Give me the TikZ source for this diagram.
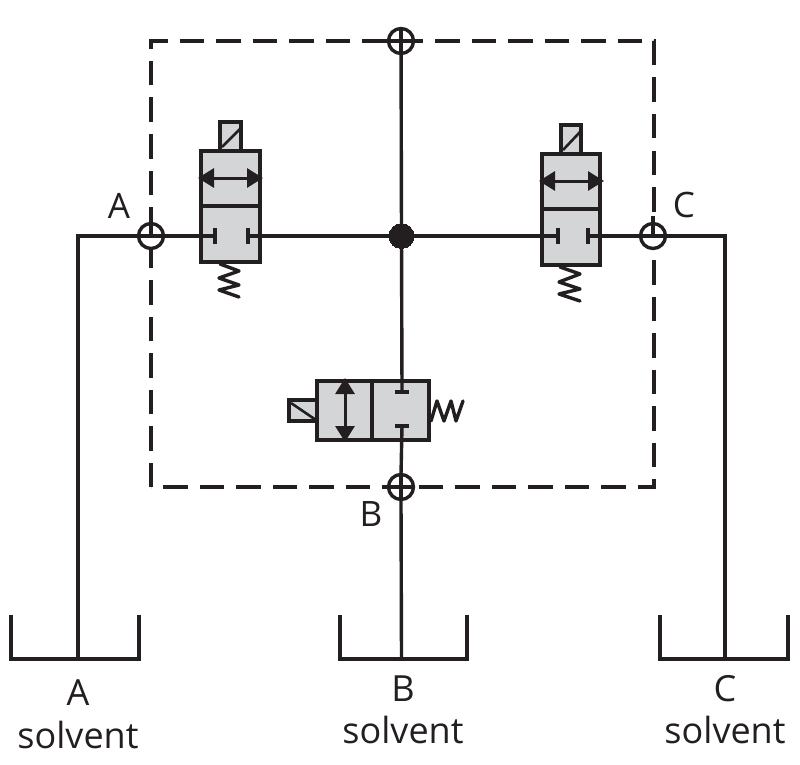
\documentclass[tikz,border=0pt]{standalone}
\usepackage{fontspec}
\setmainfont{Open Sans}
\usetikzlibrary{arrows.meta}
\definecolor{ink}{HTML}{231F20}
\definecolor{valvegrey}{HTML}{D3D5D7}
\tikzset{
  pipe/.style={line width=3.4pt,draw=ink},
  coil/.style={line width=3.4pt,draw=ink,line join=round,line cap=round},
  slash/.style={line width=2.6pt,draw=ink},
  boundary/.style={line width=3.4pt,draw=ink,dash pattern=on 24.5pt off 12pt},
  valvebody/.style={draw=ink,line width=3.4pt,fill=valvegrey,rectangle,inner sep=0pt,outer sep=0pt},
  portring/.style={circle,draw=ink,line width=3.4pt,fill=white,minimum size=25pt,inner sep=0pt,outer sep=0pt},
  junction/.style={circle,draw=ink,fill=ink,line width=0pt,minimum size=25pt,inner sep=0pt,outer sep=0pt},
  flow/.style={line width=3pt,draw=ink,{Triangle[length=16pt,width=19pt,fill=ink]}-{Triangle[length=16pt,width=19pt,fill=ink]},shorten <=-1pt,shorten >=-1pt},
  label/.style={draw=none,text=ink,font=\fontsize{35}{35}\selectfont,inner sep=0pt},
  tanklabel/.style={draw=none,text=ink,font=\fontsize{36}{36}\selectfont,inner sep=0pt}
}
\begin{document}
\begin{tikzpicture}[x=1pt,y=-1pt]
\useasboundingbox (0,0) rectangle (800,765);
\fill[white] (0,0) rectangle (800,765);
% boundary
\draw[boundary] (151,487) -- (151,41) -- (654,41) -- (654,487) -- cycle;
% named points
\node[junction,minimum size=25pt] (hub) at (401.5,236) {};
\node[portring] (top) at (401,41) {};
\node[portring] (pA) at (151,236) {};
\node[portring] (pC) at (653,236) {};
\node[portring] (pB) at (401,487) {};
\coordinate (cornerA) at (78,236);
\coordinate (cornerC) at (725,236);
\coordinate (tankAb) at (78,659);
\coordinate (tankBb) at (401.5,659);
\coordinate (tankCb) at (725,659);
% tanks
\draw[pipe] (11,615) -- (11,659) -- (139,659) -- (139,615);
\draw[pipe] (340,615) -- (340,659) -- (467,659) -- (467,615);
\draw[pipe] (660,615) -- (660,659) -- (788,659) -- (788,615);
% valve bodies
\node[valvebody,minimum width=59pt,minimum height=111pt] (vA) at (230.5,206.5) {};
\node[valvebody,minimum width=58pt,minimum height=111pt] (vC) at (571,209.5) {};
\node[valvebody,minimum width=112pt,minimum height=59pt] (vB) at (373,410.5) {};
\node[valvebody,minimum width=21pt,minimum height=29pt] (solA) at (230.5,136.5) {};
\node[valvebody,minimum width=20pt,minimum height=29pt] (solC) at (571,139.5) {};
\node[valvebody,minimum width=28pt,minimum height=21pt] (solB) at (303,410.5) {};
% pipes
\draw[pipe] (top.north) -- (hub);
\draw[pipe] (hub) -- (402,392);
\draw[pipe] (402,426) -- (pB.north);
\draw[pipe] (pB.south) -- (tankBb);
\draw[pipe] (tankAb) -- (cornerA) -- (pA.west);
\draw[pipe] (pA.east) -- (215,236);
\draw[pipe] (248,236) -- (hub);
\draw[pipe] (hub) -- (558,236);
\draw[pipe] (588,236) -- (pC.west);
\draw[pipe] (pC.east) -- (cornerC) -- (tankCb);
% crosses in rings
\draw[pipe] (top.north) -- (top.south);
\draw[pipe] (top.west) -- (top.east);
\draw[pipe] (pB.north) -- (pB.south);
\draw[pipe] (pB.west) -- (pB.east);
\draw[pipe] (pA.west) -- (pA.east);
\draw[pipe] (151,216) -- (151,236);
\draw[pipe] (pC.west) -- (pC.east);
\draw[pipe] (653,216) -- (653,236);
% valve dividers
\draw[pipe] (vA.west |- 0,206) -- (vA.east |- 0,206);
\draw[pipe] (vC.west |- 0,209) -- (vC.east |- 0,209);
\draw[pipe] (372,381) -- (372,440);
% port ticks
\draw[pipe] (215,228) -- (215,244);
\draw[pipe] (248,228) -- (248,244);
\draw[pipe] (558,228) -- (558,244);
\draw[pipe] (588,228) -- (588,244);
\draw[pipe] (395,392) -- (409,392);
\draw[pipe] (395,426) -- (409,426);
% flow arrows
\draw[flow] (199,178) -- (262,178);
\draw[flow] (540,181) -- (603,181);
\draw[flow] (345,379) -- (345,441);
% solenoid slashes
\draw[slash] (222,147) -- (240,129);
\draw[slash] (563,150) -- (580,132);
\draw[slash] (291,403) -- (316,420);
% springs
\draw[coil] (220,264) -- (239,271) -- (219,278) -- (239,285) -- (219,290) -- (239,297);
\draw[coil] (560,267) -- (580,274) -- (559,282) -- (580,289) -- (559,294) -- (580,301);
\draw[coil] (431,421) -- (437,401) -- (444,421) -- (451,401) -- (456,421) -- (463,401);
% labels
\node[label] (lA) at (119,206) {A};
\node[label] (lC) at (684,205) {C};
\node[label] (lB) at (371,514) {B};
\node[tanklabel] (tA) at (78,693) {A};
\node[tanklabel] (sA) at (78,735) {solvent};
\node[tanklabel] (tB) at (403,689) {B};
\node[tanklabel] (sB) at (403,730) {solvent};
\node[tanklabel] (tC) at (725,689) {C};
\node[tanklabel] (sC) at (725,730) {solvent};
\end{tikzpicture}
\end{document}
